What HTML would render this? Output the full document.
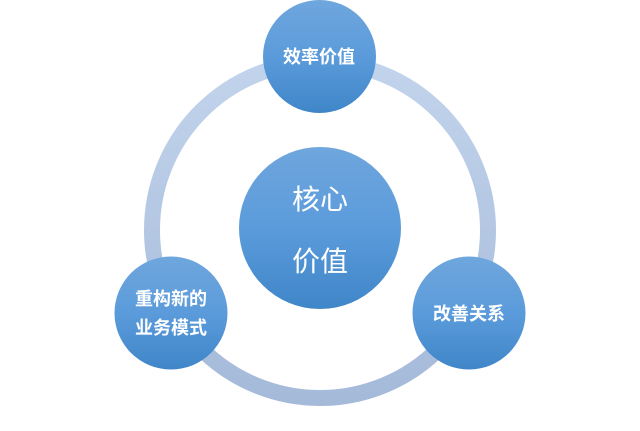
<!DOCTYPE html>
<html><head><meta charset="utf-8"><style>
body{margin:0;background:#fff;width:640px;height:426px;overflow:hidden}
text{font-family:"Liberation Sans","Noto Sans CJK SC",sans-serif;fill:#fff;text-anchor:middle}
</style></head><body>
<svg width="640" height="426" viewBox="0 0 640 426">
<defs>
<linearGradient id="ring" x1="0" y1="0" x2="0" y2="1"><stop offset="0" stop-color="#c2d4ec"/><stop offset="1" stop-color="#a5b9d9"/></linearGradient>
<linearGradient id="c" x1="0" y1="0" x2="0" y2="1"><stop offset="0" stop-color="#6fa6dd"/><stop offset="0.5" stop-color="#5b9bdb"/><stop offset="1" stop-color="#3f86c8"/></linearGradient>
</defs>
<circle cx="320" cy="230" r="168" fill="none" stroke="url(#ring)" stroke-width="16"/>
<circle cx="320" cy="228" r="81" fill="url(#c)"/>
<circle cx="319.5" cy="56.5" r="56.5" fill="url(#c)"/>
<circle cx="171" cy="313" r="56.5" fill="url(#c)"/>
<circle cx="469" cy="313" r="56.5" fill="url(#c)"/>
<text x="320" y="209" font-size="28">核心</text>
<text x="320" y="271" font-size="28">价值</text>
<text x="319" y="63" font-size="18" font-weight="bold">效率价值</text>
<text x="171" y="305" font-size="18" font-weight="bold">重构新的</text>
<text x="171" y="334" font-size="18" font-weight="bold">业务模式</text>
<text x="469" y="320" font-size="18" font-weight="bold">改善关系</text>
</svg>
</body></html>
